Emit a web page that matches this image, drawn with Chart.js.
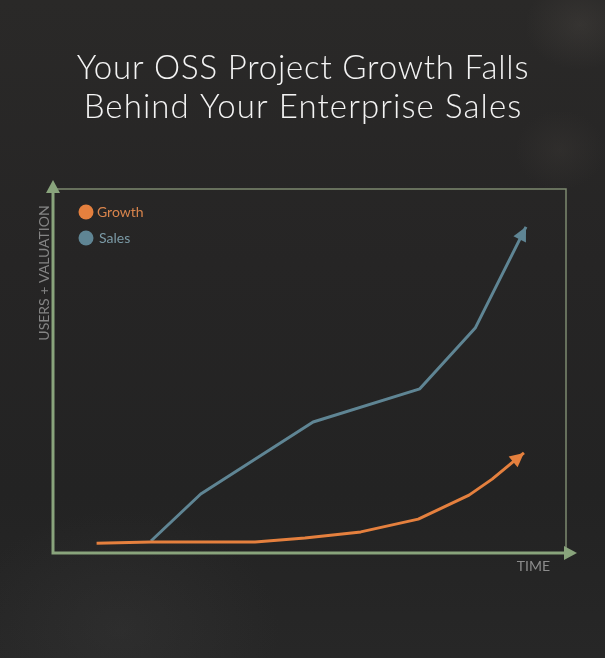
<!DOCTYPE html>
<html>
<head>
<meta charset="utf-8">
<script src="https://cdn.jsdelivr.net/npm/chart.js@4/dist/chart.umd.min.js"></script>
<style>
  html, body { margin: 0; padding: 0; }
  body {
    width: 605px; height: 658px; overflow: hidden;
    background:
      radial-gradient(ellipse 55px 45px at 580px 25px, rgba(85,80,75,0.28), rgba(0,0,0,0) 100%),
      radial-gradient(ellipse 45px 40px at 560px 150px, rgba(75,70,65,0.22), rgba(0,0,0,0) 100%),
      radial-gradient(ellipse 160px 120px at 120px 630px, rgba(70,70,70,0.22), rgba(0,0,0,0) 100%),
      linear-gradient(180deg, #2a2928 0%, #262525 40%, #232323 75%, #272727 100%);
  }
  #wrap { position: absolute; left: 0; top: 0; width: 605px; height: 658px; }
</style>
</head>
<body>
<div id="wrap"><canvas id="c" width="605" height="658"></canvas></div>
<script>
// ---- data ----
const titleLines = ["Your OSS Project Growth Falls", "Behind Your Enterprise Sales"];
const seriesNames = ["Growth", "Sales"];
const growthTime  = [8.5, 19.1, 39.4, 49.1, 60.0, 71.2, 81.1, 85.6, 91.8];
const growthValue = [2.7, 3.0, 3.0, 4.1, 5.8, 9.3, 15.9, 20.3, 27.5];
const salesTime   = [19.1, 28.8, 50.7, 71.5, 82.3, 92.2];
const salesValue  = [3.3, 16.2, 36.0, 45.1, 61.8, 89.6];
const xAxisLabel = "TIME";
const yAxisLabel = "USERS + VALUATION";

const ORANGE = '#e5803e';
const BLUE = '#5f8594';
const AXIS = '#89a47c';
const FONT = 'Lato, "Open Sans", sans-serif';

const growthData = growthTime.map((t, i) => ({ x: t, y: growthValue[i] }));
const salesData = salesTime.map((t, i) => ({ x: t, y: salesValue[i] }));

const decor = {
  id: 'decor',
  beforeDatasetsDraw(chart) {
    const { ctx, chartArea: a } = chart;
    ctx.save();
    // thin frame (top & right)
    ctx.strokeStyle = 'rgba(140,155,125,0.85)';
    ctx.lineWidth = 1.5;
    ctx.beginPath();
    ctx.moveTo(a.left, a.top);
    ctx.lineTo(a.right, a.top);
    ctx.lineTo(a.right, a.bottom);
    ctx.stroke();
    // main axes
    ctx.strokeStyle = AXIS;
    ctx.fillStyle = AXIS;
    ctx.lineWidth = 3;
    ctx.beginPath();
    ctx.moveTo(a.left, a.bottom);
    ctx.lineTo(a.left, a.top - 2);
    ctx.moveTo(a.left - 1.5, a.bottom);
    ctx.lineTo(a.right + 2, a.bottom);
    ctx.stroke();
    // arrow heads
    ctx.beginPath();
    ctx.moveTo(a.left, a.top - 9);
    ctx.lineTo(a.left - 7, a.top + 4);
    ctx.lineTo(a.left + 7, a.top + 4);
    ctx.closePath();
    ctx.fill();
    ctx.beginPath();
    ctx.moveTo(a.right + 11, a.bottom);
    ctx.lineTo(a.right - 2, a.bottom - 7);
    ctx.lineTo(a.right - 2, a.bottom + 7);
    ctx.closePath();
    ctx.fill();

    // title
    ctx.fillStyle = '#f4f4f4';
    ctx.font = '300 33px ' + FONT;
    ctx.textAlign = 'center';
    ctx.textBaseline = 'alphabetic';
    ctx.letterSpacing = '0.8px';
    ctx.fillText(titleLines[0], 303, 79);
    ctx.letterSpacing = '1.1px';
    ctx.fillText(titleLines[1], 303, 118);
    ctx.letterSpacing = '0px';

    // axis labels
    ctx.fillStyle = '#8c8c8c';
    ctx.font = '14px ' + FONT;
    ctx.textAlign = 'right';
    ctx.fillText(xAxisLabel, 550, 571);
    ctx.save();
    ctx.translate(49, 273);
    ctx.rotate(-Math.PI / 2);
    ctx.textAlign = 'center';
    ctx.fillStyle = '#858585';
    ctx.fillText(yAxisLabel, 0, 0);
    ctx.restore();

    // legend
    const items = chart.data.datasets;
    const legendColors = ['#d8844c', '#7b9aa6'];
    items.forEach((ds, i) => {
      const cy = a.top + 23 + i * 26;
      ctx.beginPath();
      ctx.fillStyle = ds.borderColor;
      ctx.arc(86, cy, 7.5, 0, Math.PI * 2);
      ctx.fill();
      ctx.fillStyle = legendColors[i];
      ctx.font = '14px ' + FONT;
      ctx.textAlign = 'left';
      ctx.fillText(ds.label, i === 0 ? 97 : 99, cy + 5);
    });
    ctx.restore();
  },
  afterDatasetsDraw(chart) {
    const { ctx } = chart;
    chart.data.datasets.forEach((ds, i) => {
      const pts = chart.getDatasetMeta(i).data;
      const p1 = pts[pts.length - 1], p0 = pts[pts.length - 2];
      const ang = Math.atan2(p1.y - p0.y, p1.x - p0.x);
      const L = 14, W = 7;
      ctx.save();
      ctx.translate(p1.x, p1.y);
      ctx.rotate(ang);
      ctx.fillStyle = ds.borderColor;
      ctx.beginPath();
      ctx.moveTo(0, 0);
      ctx.lineTo(-L, -W);
      ctx.lineTo(-L, W);
      ctx.closePath();
      ctx.fill();
      ctx.restore();
    });
  }
};

new Chart(document.getElementById('c'), {
  type: 'line',
  data: {
    datasets: [
      { label: seriesNames[0], data: growthData, borderColor: ORANGE, backgroundColor: ORANGE,
        borderWidth: 3, pointRadius: 0, tension: 0, borderJoinStyle: 'round', fill: false },
      { label: seriesNames[1], data: salesData, borderColor: BLUE, backgroundColor: BLUE,
        borderWidth: 3, pointRadius: 0, tension: 0, borderJoinStyle: 'round', fill: false }
    ]
  },
  options: {
    responsive: false,
    animation: false,
    devicePixelRatio: 1,
    layout: { padding: { left: 53, top: 189, right: 39, bottom: 105 } },
    scales: {
      x: { type: 'linear', min: 0, max: 100, display: false },
      y: { type: 'linear', min: 0, max: 100, display: false }
    },
    plugins: {
      legend: { display: false },
      title: { display: false },
      tooltip: { enabled: false }
    },
    clip: false
  },
  plugins: [decor]
});
</script>
</body>
</html>
